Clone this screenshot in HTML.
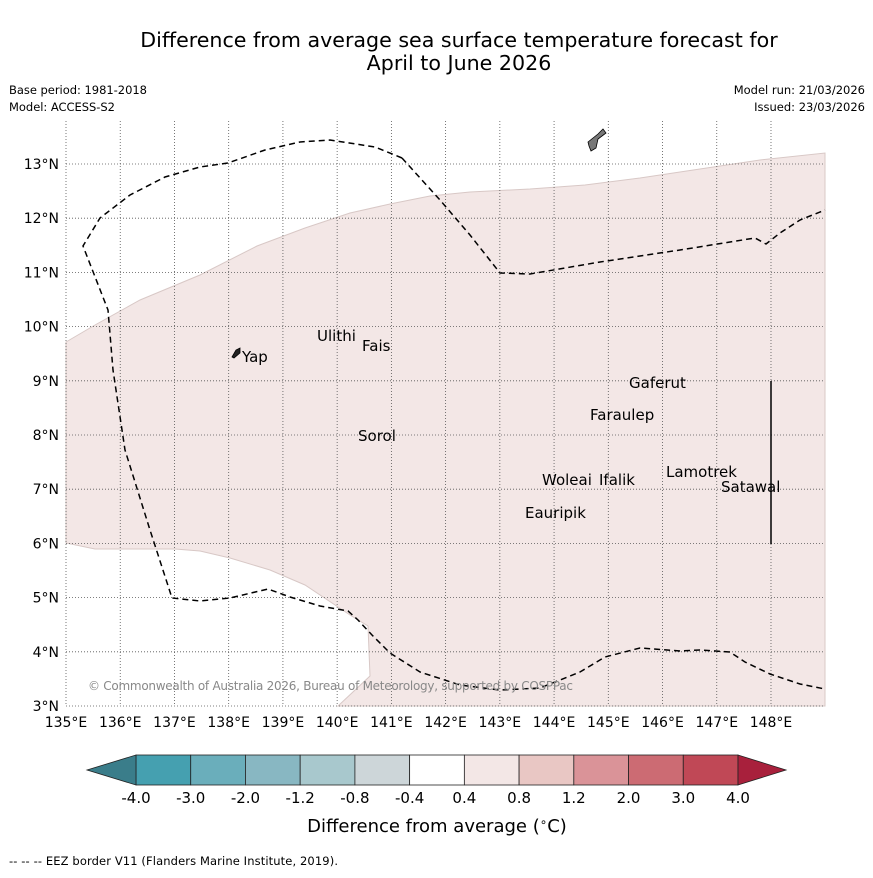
<!DOCTYPE html>
<html><head><meta charset="utf-8"><style>
body{margin:0;background:#fff;font-family:"Liberation Sans","DejaVu Sans",sans-serif}
svg text{font-family:"DejaVu Sans","Liberation Sans",sans-serif}
</style></head><body>
<svg id="c" width="873" height="873" viewBox="0 0 873 873" xmlns="http://www.w3.org/2000/svg">
<rect width="873" height="873" fill="#fff"/>
<text x="459" y="47" font-size="20.6" text-anchor="middle">Difference from average sea surface temperature forecast for</text>
<text x="459" y="70" font-size="20.6" text-anchor="middle">April to June 2026</text>
<text x="9" y="94" font-size="11.5" textLength="138">Base period: 1981-2018</text>
<text x="9" y="111" font-size="11.5" textLength="106">Model: ACCESS-S2</text>
<text x="865" y="94" font-size="11.5" text-anchor="end">Model run: 21/03/2026</text>
<text x="865" y="111" font-size="11.5" text-anchor="end">Issued: 23/03/2026</text>
<path fill="#f3e7e6" stroke="#d8c8c6" stroke-width="1" d="M66,342 L95,325 L140,300 L200,275 L257,246 L305,228 L350,213 L390,204 L430,196 L470,192 L530,189 L585,185 L640,178 L700,169 L760,160 L825,153 L825,706 L338,706 L370,676 L368,626 L350,615 L305,585 L270,570 L230,558 L200,551 L175,549 L95,549 L66,543 Z"/>
<g id="grid"></g>
<g id="ticks"></g>
<path fill="none" stroke="#000" stroke-width="1.5" stroke-dasharray="6,4" d="M402,158 L375,147 L330,140 L300,142 L265,150 L228,163 L200,167 L165,177 L130,195 L100,218 L83,246 L108,310 L113,370 L125,450 L150,530 L172,598 L200,601 L230,598 L268,589 L290,597 L320,606 L348,611 L358,620 L372,635 L390,653 L420,672 L460,685 L500,690 L540,688 L580,672 L605,657 L640,648 L680,651 L700,650 L730,652 L745,662 L770,674 L800,684 L825,689"/>
<path fill="none" stroke="#000" stroke-width="1.5" stroke-dasharray="6,4" d="M402,158 L440,200 L470,235 L500,273 L530,274 L600,262 L680,250 L755,238 L766,244 L780,233 L800,220 L825,210"/>
<line x1="771" y1="381" x2="771" y2="544" stroke="#000" stroke-width="1.5"/>
<path d="M588,142 L598,134 L603,129 L606,133 L598,139 L596,148 L591,151 L589,146 Z" fill="#777" stroke="#000" stroke-width="0.8"/>
<path d="M232,357 L236,350 L240,348 L240,353 L234,358 Z" fill="#222" stroke="#000" stroke-width="0.8"/>
<g font-size="15" fill="#000">
<text x="242" y="362">Yap</text>
<text x="317" y="341">Ulithi</text>
<text x="362" y="351">Fais</text>
<text x="629" y="388">Gaferut</text>
<text x="590" y="420">Faraulep</text>
<text x="358" y="441">Sorol</text>
<text x="666" y="477">Lamotrek</text>
<text x="542" y="485">Woleai</text>
<text x="599" y="485">Ifalik</text>
<text x="721" y="492">Satawal</text>
<text x="525" y="518">Eauripik</text>
</g>
<text x="88" y="690" font-size="12" fill="#888" textLength="485">© Commonwealth of Australia 2026, Bureau of Meteorology, supported by COSPPac</text>
<g id="cbar"></g>
<text x="437" y="832" font-size="18" text-anchor="middle">Difference from average (<tspan font-size="12" dy="-6">∘</tspan><tspan dy="6">C)</tspan></text>
<text x="9" y="865" font-size="11.5" textLength="329">--  --  -- EEZ border V11 (Flanders Marine Institute, 2019).</text>
</svg>
<script>
const lons=[135,136,137,138,139,140,141,142,143,144,145,146,147,148];
const lats=[3,4,5,6,7,8,9,10,11,12,13];
const cbLevels=["-4.0","-3.0","-2.0","-1.2","-0.8","-0.4","0.4","0.8","1.2","2.0","3.0","4.0"];
const cbColors=["#45a0b0","#6aaebb","#88b7c2","#a8c8cd","#cdd6d9","#ffffff","#f3e7e6","#e9c7c4","#da9398","#cc6b73","#c04856"];
const NS="http://www.w3.org/2000/svg";
const X=l=>66+(l-135)*54.23, Y=l=>706-(l-3)*54.2;
const g=document.getElementById('grid'),t=document.getElementById('ticks');
function mk(tag,a,p){const e=document.createElementNS(NS,tag);for(const k in a)e.setAttribute(k,a[k]);p.appendChild(e);return e;}
lons.forEach(l=>{
 const ln=mk('line',{x1:X(l),x2:X(l),y1:121,y2:706,stroke:'#555','stroke-width':0.8,'stroke-dasharray':'1,2'},g);
 
 
 const tx=mk('text',{x:X(l),y:727,'font-size':14,'text-anchor':'middle'},t);tx.textContent=l+'°E';
 
 
});
lats.forEach(l=>{
 const ln=mk('line',{x1:66,x2:825,y1:Y(l),y2:Y(l),stroke:'#555','stroke-width':0.8,'stroke-dasharray':'1,2'},g);
 
 
 const tx=mk('text',{x:59,y:Y(l)+5,'font-size':14,'text-anchor':'end'},t);tx.textContent=l+'°N';
 
 
});
const cb=document.getElementById('cbar');
const x0=136,w=(738-136)/cbColors.length,y0=755,h=30;
cbColors.forEach((c,i)=>{
 const r=mk('rect',{x:x0+i*w,y:y0,width:w,height:h,fill:c,stroke:'#222','stroke-width':0.8},cb);
 
 
});
const lt=mk('polygon',{points:`${x0},${y0} ${x0},${y0+h} 87,${y0+h/2}`,fill:'#3a7d8a',stroke:'#222','stroke-width':0.8},cb);


const rt=mk('polygon',{points:`738,${y0} 738,${y0+h} 786,${y0+h/2}`,fill:'#a8203c',stroke:'#222','stroke-width':0.8},cb);


cbLevels.forEach((v,i)=>{
 const tx=mk('text',{x:x0+i*w,y:803,'font-size':15,'text-anchor':'middle'},cb);tx.textContent=v;
 
 
});
</script>
</body></html>
